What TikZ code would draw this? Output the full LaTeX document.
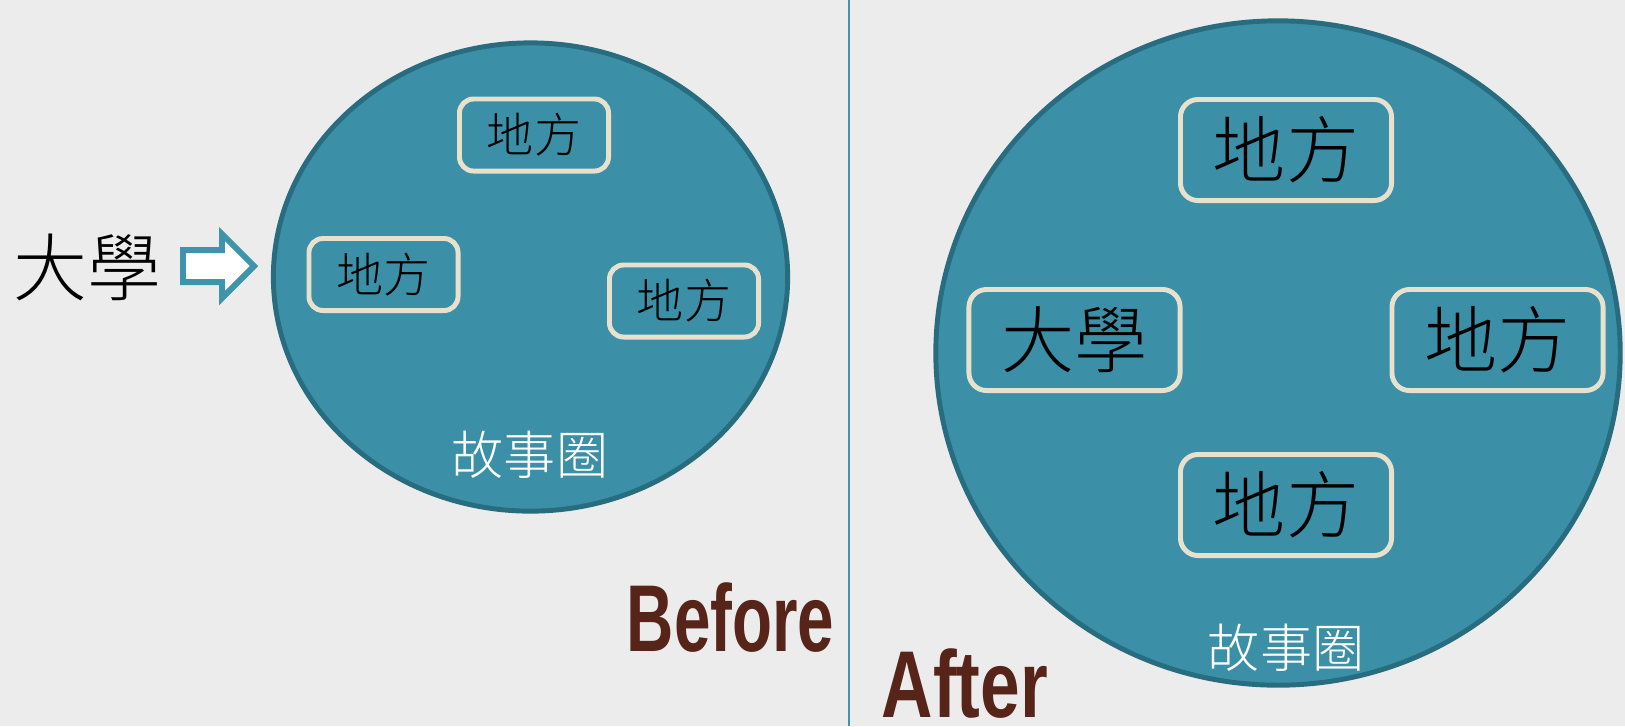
\documentclass[tikz,border=0pt]{standalone}
\usepackage{fontspec}
\setmainfont{Liberation Sans}
\newfontfamily\cjk{Noto Sans CJK TC Light}
\definecolor{circfill}{RGB}{59,144,167}
\definecolor{circline}{RGB}{40,108,128}
\definecolor{boxline}{RGB}{232,225,205}
\definecolor{arrowline}{RGB}{62,148,170}
\definecolor{darkbrown}{RGB}{86,36,24}
\definecolor{paper}{RGB}{236,236,236}
\tikzset{
	circ/.style={fill=circfill, draw=circline, line width=1.4pt},
	place/.style={draw=boxline, fill=circfill, line width=1.4pt, rounded corners=4pt, inner sep=0pt, minimum width=1.49cm, minimum height=0.72cm, font=\cjk\fontsize{13.4}{15}\selectfont},
	bigplace/.style={place, rounded corners=5pt, minimum width=2.11cm, minimum height=1.01cm, font=\cjk\fontsize{20.8}{23}\selectfont},
	circname/.style={text=white, inner sep=0pt, font=\cjk\fontsize{14.8}{16}\selectfont},
	era/.style={text=darkbrown, inner sep=0pt, anchor=base west, font=\bfseries\fontsize{27}{30}\selectfont}
}
\begin{document}
\begin{tikzpicture}[x=0.01cm,y=-0.01cm]
		\useasboundingbox (0,0) rectangle (1625,726);
		\fill[paper] (0,0) rectangle (1625,726);
		% before
		\node[inner sep=0pt, font=\cjk\fontsize{21}{23}\selectfont] (uni) at (87.5,267) {大學};
		\draw[arrowline, line width=1.7pt, fill=white, line join=miter] (183,250) -- (222,250) -- (222,234) -- (254,266) -- (222,298) -- (222,282) -- (183,282) -- cycle;
		\draw[circ] (530.5,277) ellipse (2.57cm and 2.34cm);
		\node[place] (p1) at (534,135) {地方};
		\node[place] (p2) at (383.5,274.5) {地方};
		\node[place] (p3) at (684,301) {地方};
		\node[circname] (c1) at (530,455) {故事圈};
		\node[era] (before) at (626,651) {\scalebox{0.69}[1]{Before}};
		% divider
		\draw[arrowline, line width=0.6pt] (849,0) -- (849,726);
		% after
		\draw[circ] (1278,353) ellipse (3.42cm and 3.32cm);
		\node[bigplace] (q1) at (1286,150) {地方};
		\node[bigplace] (q2) at (1074.5,340) {大學};
		\node[bigplace] (q3) at (1497.5,340) {地方};
		\node[bigplace] (q4) at (1286,505) {地方};
		\node[circname] (c2) at (1286,648) {故事圈};
		\node[era] (after) at (881,717) {\scalebox{0.75}[1]{After}};
	\end{tikzpicture}
\end{document}
